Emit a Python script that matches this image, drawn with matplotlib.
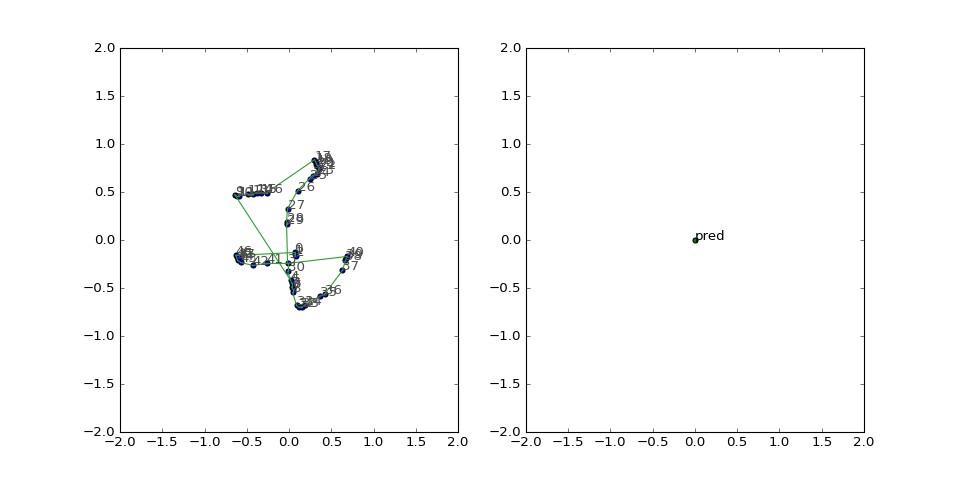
import numpy as np
import matplotlib
matplotlib.use('Agg')
import matplotlib.pyplot as plt

plt.style.use('classic')

# joint coordinates
xs = np.array([0.065, 0.065, 0.077, -0.018, 0.018, 0.03, 0.03, 0.041, 0.041,
               -0.643, -0.62, -0.596, -0.49, -0.43, -0.383, -0.336, -0.265,
               0.30, 0.313, 0.324, 0.336, 0.348, 0.348, 0.336, 0.277, 0.242,
               0.10, -0.018, -0.03, -0.03, -0.018,
               0.088, 0.112, 0.147, 0.183, 0.36, 0.419, 0.631, 0.667, 0.678, 0.69,
               -0.265, -0.43, -0.572, -0.608, -0.62, -0.631, -0.596])
ys = np.array([-0.13, -0.15, -0.17, -0.244, -0.42, -0.45, -0.49, -0.51, -0.545,
               0.473, 0.462, 0.462, 0.483, 0.483, 0.494, 0.494, 0.494,
               0.836, 0.816, 0.795, 0.774, 0.764, 0.743, 0.691, 0.67, 0.639,
               0.514, 0.327, 0.192, 0.171, -0.327,
               -0.68, -0.70, -0.70, -0.68, -0.587, -0.566, -0.317, -0.213, -0.192, -0.171,
               -0.244, -0.265, -0.234, -0.213, -0.182, -0.161, -0.192])

# skeleton edges
edges = [(0, 1), (1, 2), (29, 3), (3, 30), (30, 4), (4, 5), (5, 6), (6, 7), (7, 8),
         (8, 31), (31, 32), (32, 33), (33, 34), (34, 35), (35, 36), (36, 37),
         (37, 38), (38, 39), (39, 40), (40, 3),
         (29, 28), (28, 27), (27, 26), (26, 25), (25, 24), (24, 23), (23, 22),
         (22, 21), (21, 20), (20, 19), (19, 18), (18, 17), (17, 16), (16, 15),
         (15, 14), (14, 13), (13, 12), (12, 11), (11, 10), (10, 9), (9, 4),
         (0, 46), (46, 45), (45, 44), (44, 43), (43, 42), (42, 41), (41, 3)]

# prediction
pred_x = [0.0]
pred_y = [0.0]

fig, (ax1, ax2) = plt.subplots(1, 2, figsize=(12, 6), dpi=80)

ax1.scatter(xs, ys, c='b', s=20, zorder=2)
for a, b in edges:
    ax1.plot([xs[a], xs[b]], [ys[a], ys[b]], color='#2ca02c', zorder=3)
for i in range(len(xs)):
    ax1.annotate(str(i), (xs[i], ys[i]), color='0.3', zorder=4)

ax2.scatter(pred_x, pred_y, c='g', s=20)
ax2.annotate('pred', (pred_x[0], pred_y[0]))

for ax in (ax1, ax2):
    ax.set_xlim(-2, 2)
    ax.set_ylim(-2, 2)

fig.savefig('out.png', dpi=80)
